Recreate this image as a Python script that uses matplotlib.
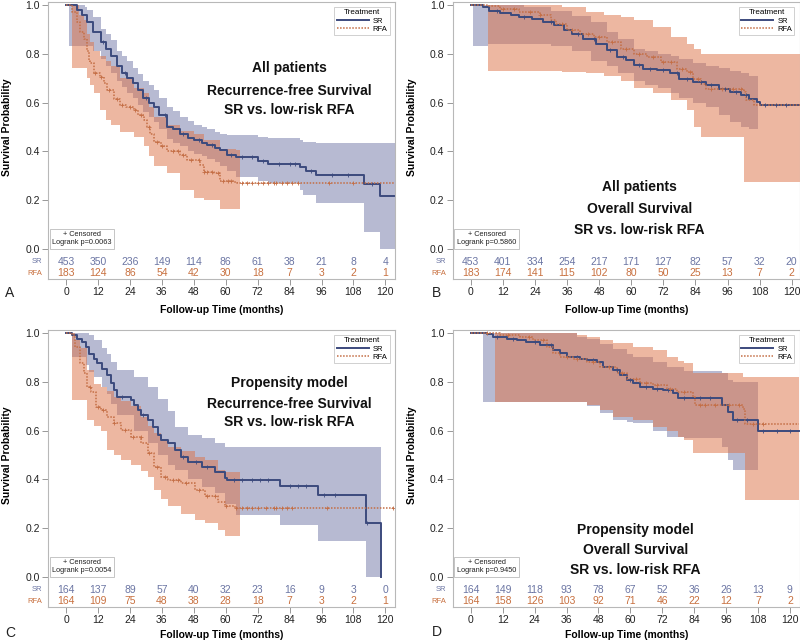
import numpy as np
import matplotlib
matplotlib.use('Agg')
import matplotlib.pyplot as plt

plt.rcParams['font.family'] = ['Liberation Sans', 'DejaVu Sans']

# ---- panel A: all patients, recurrence-free survival ----
a_sr_t = [0, 4, 6, 8, 10, 13, 15, 17, 19, 21, 23, 25, 27, 29, 31, 33, 35, 38, 40, 43, 46, 48, 51, 53, 56, 58, 60.5, 64, 72, 76, 88, 90, 94, 112, 118, 123.5]
a_sr_s = [1.0, 0.98, 0.96, 0.93, 0.89, 0.85, 0.82, 0.79, 0.75, 0.72, 0.70, 0.68, 0.65, 0.62, 0.60, 0.58, 0.55, 0.50, 0.49, 0.47, 0.455, 0.445, 0.435, 0.425, 0.415, 0.405, 0.385, 0.377, 0.362, 0.35, 0.335, 0.32, 0.305, 0.265, 0.215, 0.215]
a_sr_bt = [0, 1, 7, 8, 10, 13, 15, 17, 19, 21, 23, 25, 27, 29, 31, 33, 35, 38, 40, 43, 46, 48, 51, 53, 56, 58, 60.5, 64, 72, 76, 88, 89, 94, 112, 118, 123.5]
a_sr_lo = [1.0, 0.83, 0.83, 0.83, 0.81, 0.78, 0.75, 0.72, 0.69, 0.665, 0.64, 0.62, 0.59, 0.56, 0.54, 0.52, 0.49, 0.45, 0.435, 0.42, 0.40, 0.39, 0.38, 0.37, 0.355, 0.34, 0.32, 0.295, 0.28, 0.27, 0.24, 0.22, 0.19, 0.07, 0.0, 0.0]
a_sr_hi = [1.0, 1.0, 0.99, 0.98, 0.95, 0.90, 0.88, 0.855, 0.81, 0.79, 0.77, 0.74, 0.715, 0.69, 0.67, 0.65, 0.62, 0.58, 0.565, 0.54, 0.525, 0.51, 0.50, 0.49, 0.48, 0.47, 0.465, 0.465, 0.46, 0.455, 0.445, 0.44, 0.435, 0.435, 0.435, 0.435]
a_rfa_t = [0, 2.3, 4.1, 5.4, 6.6, 7.9, 8.5, 9.1, 10.4, 12.9, 14.2, 15.4, 17.9, 20.4, 22.5, 25.4, 27, 29.2, 30.5, 31.7, 32.9, 35.5, 38, 43, 45.5, 50.5, 51.7, 55.5, 58, 63, 64.3, 123.5]
a_rfa_s = [1.0, 0.97, 0.93, 0.89, 0.86, 0.81, 0.77, 0.76, 0.72, 0.705, 0.68, 0.65, 0.615, 0.59, 0.58, 0.57, 0.55, 0.53, 0.50, 0.47, 0.44, 0.42, 0.40, 0.385, 0.365, 0.345, 0.315, 0.31, 0.28, 0.275, 0.27, 0.27]
a_rfa_bt = [0, 2.3, 5, 6.6, 7.9, 9, 10.4, 12.9, 15, 16.7, 20.4, 25.4, 29.2, 31, 32.9, 38, 43, 48, 51.7, 58, 64, 65.2]
a_rfa_lo = [1.0, 0.74, 0.74, 0.74, 0.70, 0.67, 0.64, 0.57, 0.53, 0.51, 0.48, 0.46, 0.42, 0.38, 0.34, 0.31, 0.24, 0.21, 0.20, 0.165, 0.165, 0.165]
a_rfa_hi = [1.0, 1.0, 0.96, 0.94, 0.88, 0.85, 0.81, 0.79, 0.77, 0.75, 0.70, 0.66, 0.64, 0.58, 0.54, 0.51, 0.485, 0.47, 0.445, 0.41, 0.405, 0.405]
a_sr_cens = [14, 22, 30, 37, 44, 50, 55, 62, 66, 70, 74, 80, 84, 86, 92, 100, 106, 115]
a_rfa_cens = [11, 13, 16, 19, 21, 24, 26, 28, 31, 34, 36, 40, 42, 44, 47, 50, 52, 53, 55, 57, 59, 61, 62, 66, 68, 70, 72, 74, 76, 78, 79, 81, 83, 85, 87, 99, 108]
a_risk_sr = [453, 350, 236, 149, 114, 86, 61, 38, 21, 8, 4]
a_risk_rfa = [183, 124, 86, 54, 42, 30, 18, 7, 3, 2, 1]

# ---- panel B: all patients, overall survival ----
b_sr_t = [0, 4.6, 7, 11, 15, 18, 23, 27, 31, 35, 38, 42, 47, 51, 54.5, 58, 61, 64.5, 69.5, 74.5, 78, 83, 88, 93, 97, 101, 104, 107, 108, 123.5]
b_sr_s = [1.0, 0.99, 0.975, 0.965, 0.957, 0.95, 0.944, 0.93, 0.917, 0.896, 0.882, 0.862, 0.84, 0.814, 0.787, 0.773, 0.753, 0.739, 0.732, 0.719, 0.698, 0.684, 0.67, 0.657, 0.643, 0.63, 0.616, 0.602, 0.589, 0.589]
b_sr_bt = [0, 1, 6.5, 20, 30, 38, 45, 50.8, 55, 61, 65, 70, 75, 78, 83, 88, 93, 97, 101, 104, 107.5]
b_sr_lo = [1.0, 0.83, 0.84, 0.84, 0.83, 0.81, 0.77, 0.75, 0.72, 0.69, 0.67, 0.66, 0.64, 0.62, 0.60, 0.58, 0.55, 0.52, 0.50, 0.49, 0.49]
b_sr_hi = [1.0, 1.0, 1.0, 0.99, 0.975, 0.955, 0.93, 0.89, 0.86, 0.82, 0.81, 0.80, 0.79, 0.78, 0.76, 0.75, 0.74, 0.73, 0.72, 0.71, 0.71]
b_rfa_t = [0, 6, 11, 18, 26, 30, 32, 36, 41, 46, 51, 56, 61, 66, 71, 77, 81, 83, 86, 88, 102, 103, 106, 123.5]
b_rfa_s = [1.0, 0.995, 0.985, 0.97, 0.957, 0.94, 0.923, 0.896, 0.882, 0.869, 0.848, 0.821, 0.80, 0.787, 0.766, 0.739, 0.725, 0.698, 0.678, 0.657, 0.643, 0.61, 0.589, 0.589]
b_rfa_bt = [0, 6.5, 30, 34, 43, 50, 56, 61, 68, 75, 81, 83.5, 86, 102, 123.5]
b_rfa_lo = [1.0, 0.73, 0.73, 0.725, 0.72, 0.71, 0.69, 0.66, 0.64, 0.61, 0.57, 0.50, 0.46, 0.275, 0.275]
b_rfa_hi = [1.0, 1.0, 1.0, 0.99, 0.97, 0.96, 0.95, 0.94, 0.91, 0.87, 0.84, 0.82, 0.80, 0.80, 0.80]
b_sr_cens = [10, 20, 30, 40, 46, 52, 57, 63, 67, 72, 77, 81, 86, 90, 95, 99, 103, 110, 114, 118]
b_rfa_cens = [12, 16, 22, 26, 34, 38, 44, 48, 53, 58, 63, 68, 72, 75, 79, 82, 85, 90, 94, 98, 101]
b_risk_sr = [453, 401, 334, 254, 217, 171, 127, 82, 57, 32, 20]
b_risk_rfa = [183, 174, 141, 115, 102, 80, 50, 25, 13, 7, 2]

# ---- panel C: propensity model, recurrence-free survival ----
c_sr_t = [0, 2.3, 4.2, 6.1, 7.3, 8.6, 10.5, 11.7, 13.6, 15.5, 16.8, 18, 19.3, 24.4, 25.6, 26.9, 28.1, 30.7, 32.6, 34.4, 35.7, 38.2, 40.8, 43.3, 45.8, 50.9, 55.9, 59.7, 60.3, 80.5, 94.8, 112.7, 118.4]
c_sr_s = [1.0, 0.99, 0.977, 0.963, 0.943, 0.915, 0.895, 0.875, 0.854, 0.827, 0.793, 0.766, 0.738, 0.725, 0.704, 0.684, 0.663, 0.643, 0.616, 0.582, 0.561, 0.548, 0.52, 0.493, 0.469, 0.452, 0.432, 0.405, 0.398, 0.371, 0.337, 0.221, 0.0]
c_sr_bt = [0, 2.3, 7.3, 8.6, 10.5, 13.6, 15.5, 17, 19.3, 25.6, 30.7, 34.4, 38.2, 40.8, 45.8, 50.9, 55.9, 59.7, 64, 80.5, 94.8, 112.7, 118.4]
c_sr_lo = [1.0, 0.90, 0.87, 0.84, 0.82, 0.78, 0.75, 0.71, 0.663, 0.60, 0.55, 0.50, 0.46, 0.44, 0.40, 0.37, 0.343, 0.30, 0.255, 0.214, 0.146, 0.0, 0.0]
c_sr_hi = [1.0, 1.0, 1.0, 0.99, 0.97, 0.94, 0.915, 0.88, 0.847, 0.82, 0.78, 0.73, 0.68, 0.616, 0.582, 0.568, 0.548, 0.534, 0.534, 0.534, 0.534, 0.534, 0.534]
c_rfa_t = [0, 2.3, 3.5, 5.4, 6.7, 7.9, 9.2, 11.1, 13, 15.5, 18, 20.6, 24.4, 28.1, 30.7, 33.2, 35.7, 38.2, 43.3, 48.3, 52.1, 57.2, 59.7, 63.5, 123.5]
c_rfa_s = [1.0, 0.99, 0.943, 0.875, 0.834, 0.78, 0.759, 0.697, 0.684, 0.657, 0.629, 0.602, 0.575, 0.548, 0.507, 0.452, 0.411, 0.398, 0.384, 0.357, 0.33, 0.309, 0.292, 0.282, 0.282]
c_rfa_bt = [0, 2.3, 3.5, 5.4, 7.9, 10.5, 13, 15.5, 18, 20.6, 24.4, 28.1, 30.7, 33.2, 35.7, 38.2, 43.3, 48.3, 52.1, 57.2, 59.7, 65.4]
c_rfa_lo = [1.0, 0.727, 0.727, 0.727, 0.643, 0.62, 0.60, 0.52, 0.50, 0.48, 0.46, 0.435, 0.411, 0.357, 0.32, 0.289, 0.26, 0.235, 0.221, 0.193, 0.166, 0.166]
c_rfa_hi = [1.0, 1.0, 0.97, 0.94, 0.85, 0.79, 0.78, 0.76, 0.738, 0.72, 0.70, 0.657, 0.62, 0.588, 0.56, 0.534, 0.515, 0.49, 0.48, 0.439, 0.43, 0.43]
c_sr_cens = [21, 29, 44, 49, 53, 63, 66, 70, 73, 76, 84, 87, 90, 97, 101, 113]
c_rfa_cens = [9, 12, 14, 18, 22, 25, 28, 31, 34, 37, 40, 42, 45, 50, 53, 56, 60, 64, 66, 68, 70, 72, 75, 78, 79, 81, 83, 85, 98, 123]
c_risk_sr = [164, 137, 89, 57, 40, 32, 23, 16, 9, 3, 0]
c_risk_rfa = [164, 109, 75, 48, 38, 28, 18, 7, 3, 2, 1]

# ---- panel D: propensity model, overall survival ----
d_sr_t = [0, 5.9, 8.4, 13.4, 17.2, 20.9, 26, 31, 33.5, 36, 41, 43.5, 47.3, 49.8, 53.5, 56.1, 58.6, 61.1, 63.6, 68.6, 72.4, 76.1, 78, 94.3, 96.8, 98.7, 108.1, 123.5]
d_sr_s = [1.0, 0.995, 0.984, 0.977, 0.97, 0.963, 0.95, 0.929, 0.916, 0.902, 0.895, 0.888, 0.881, 0.861, 0.847, 0.827, 0.807, 0.793, 0.779, 0.772, 0.766, 0.752, 0.732, 0.704, 0.677, 0.643, 0.597, 0.597]
d_sr_bt = [0, 4.6, 36, 40, 43.5, 48.5, 53.5, 58.6, 61.1, 68.6, 73.7, 80, 94.3, 96.8, 98.7, 108.1]
d_sr_lo = [1.0, 0.718, 0.718, 0.715, 0.70, 0.67, 0.643, 0.635, 0.63, 0.60, 0.575, 0.568, 0.534, 0.48, 0.439, 0.439]
d_sr_hi = [1.0, 1.0, 1.0, 0.984, 0.975, 0.955, 0.935, 0.915, 0.90, 0.88, 0.861, 0.845, 0.834, 0.807, 0.80, 0.793]
d_rfa_t = [0, 10.9, 18.4, 23.4, 28.5, 31, 33.5, 38.5, 43.5, 48.5, 54.8, 58.6, 63.6, 68.6, 73.7, 77.4, 83.6, 84.3, 102.4, 103.1, 123.5]
d_rfa_s = [1.0, 0.99, 0.984, 0.97, 0.943, 0.916, 0.902, 0.895, 0.881, 0.861, 0.834, 0.813, 0.793, 0.786, 0.772, 0.759, 0.738, 0.704, 0.69, 0.625, 0.625]
d_rfa_bt = [0, 9, 36, 40, 43.5, 48.5, 53.5, 61.1, 68.6, 73.7, 78, 80, 83.6, 102.4, 103.1, 123.5]
d_rfa_lo = [1.0, 0.718, 0.718, 0.715, 0.704, 0.684, 0.657, 0.643, 0.616, 0.60, 0.575, 0.56, 0.507, 0.507, 0.316, 0.316]
d_rfa_hi = [1.0, 1.0, 1.0, 0.99, 0.985, 0.97, 0.96, 0.943, 0.93, 0.90, 0.885, 0.875, 0.834, 0.82, 0.82, 0.82]
d_sr_cens = [10, 16, 24, 30, 40, 46, 55, 60, 66, 70, 74, 80, 86, 90, 100, 104, 110, 115, 120]
d_rfa_cens = [6, 14, 22, 27, 36, 40, 46, 52, 57, 62, 66, 70, 75, 80, 86, 88, 92, 97, 101, 106, 110]
d_risk_sr = [164, 149, 118, 93, 78, 67, 52, 36, 26, 13, 9]
d_risk_rfa = [164, 158, 126, 103, 92, 71, 46, 22, 12, 7, 2]

risk_times = [0, 12, 24, 36, 48, 60, 72, 84, 96, 108, 120]
pvals = ['0.0063', '0.5860', '0.0054', '0.9450']
titles = [['All patients', 'Recurrence-free Survival', 'SR vs. low-risk RFA'],
          ['All patients', 'Overall Survival', 'SR vs. low-risk RFA'],
          ['Propensity model', 'Recurrence-free Survival', 'SR vs. low-risk RFA'],
          ['Propensity model', 'Overall Survival', 'SR vs. low-risk RFA']]

SR_LINE = '#3c4a7d'
RFA_LINE = '#c46e45'
SR_FILL = '#7177a7'
RFA_FILL = '#dd7145'
SR_TXT = '#6b75a3'
RFA_TXT = '#c8703f'
FRAME = '#b8b8b8'


def value_at(t, s, x):
    t = np.asarray(t)
    i = np.searchsorted(t, x, side='right') - 1
    return np.asarray(s)[np.clip(i, 0, len(s) - 1)]


def draw_panel(ax, sr, rfa, risk_sr, risk_rfa, pval, title, title_x, title_y, xlim, xlab_y):
    sr_t, sr_s, sr_bt, sr_lo, sr_hi, sr_c = sr
    rfa_t, rfa_s, rfa_bt, rfa_lo, rfa_hi, rfa_c = rfa
    ax.fill_between(sr_bt, sr_lo, sr_hi, step='post', color=SR_FILL, alpha=0.5, lw=0)
    ax.fill_between(rfa_bt, rfa_lo, rfa_hi, step='post', color=RFA_FILL, alpha=0.5, lw=0)
    ax.step(sr_t, sr_s, where='post', color=SR_LINE, lw=1.4, label='SR')
    ax.step(rfa_t, rfa_s, where='post', color=RFA_LINE, lw=1.1, ls=(0, (1, 1)), label='RFA')
    ax.plot(sr_c, value_at(sr_t, sr_s, sr_c), ls='none', marker='+', ms=3.5, mew=0.6, color=SR_LINE)
    ax.plot(rfa_c, value_at(rfa_t, rfa_s, rfa_c), ls='none', marker='+', ms=3.5, mew=0.6, color=RFA_LINE)

    ax.set_xlim(*xlim)
    ax.set_ylim(-0.123, 1.012)
    ax.set_yticks([0.0, 0.2, 0.4, 0.6, 0.8, 1.0])
    ax.set_xticks(risk_times)
    ax.tick_params(labelsize=7.5, length=4, width=0.6, color='#888888', labelcolor='#222222', pad=2)
    for sp in ax.spines.values():
        sp.set_color(FRAME)
        sp.set_linewidth(0.8)

    for x, n in zip(risk_times, risk_sr):
        ax.text(x, -0.053, str(n), color=SR_TXT, fontsize=7.5, ha='center', va='center')
    for x, n in zip(risk_times, risk_rfa):
        ax.text(x, -0.100, str(n), color=RFA_TXT, fontsize=7.5, ha='center', va='center')
    tr = ax.get_yaxis_transform()
    ax.text(-0.018, -0.053, 'SR', transform=tr, color=SR_TXT, fontsize=5.5, ha='right', va='center')
    ax.text(-0.018, -0.100, 'RFA', transform=tr, color=RFA_TXT, fontsize=5.5, ha='right', va='center')

    for k, line in enumerate(title):
        ax.text(title_x, title_y[k], line, fontsize=10, fontweight='bold', ha='center', va='center',
                color='#111111')

    ax.text(0.012, 0.118, '+ Censored\nLogrank p=' + pval, transform=ax.transAxes, fontsize=5.3,
            ha='left', va='bottom', multialignment='center', color='#222222',
            bbox=dict(boxstyle='square,pad=0.35', fc='white', ec='#bbbbbb', lw=0.6))

    leg = ax.legend(loc='upper right', title='Treatment', fontsize=5.5, title_fontsize=5.8,
                    handlelength=4.2, frameon=True, fancybox=False, borderpad=0.3,
                    labelspacing=0.1, handletextpad=0.5, bbox_to_anchor=(0.995, 0.995))
    leg.get_frame().set_edgecolor('#bbbbbb')
    leg.get_frame().set_linewidth(0.6)

    ax.set_ylabel('Survival Probability', fontsize=7.5, fontweight='bold')
    ax.yaxis.set_label_coords(-0.104, 0.549)
    ax.set_xlabel('Follow-up Time (months)', fontsize=7.5, fontweight='bold')
    ax.xaxis.set_label_coords(0.5, xlab_y)
    ax.xaxis.label.set_va('center')


fig = plt.figure(figsize=(8, 6.44), dpi=100)
ax_a = fig.add_axes([0.060, 0.5668, 0.434, 0.4301])
ax_b = fig.add_axes([0.566, 0.5668, 0.434, 0.4301])
ax_c = fig.add_axes([0.060, 0.0575, 0.434, 0.4301])
ax_d = fig.add_axes([0.566, 0.0575, 0.434, 0.4301])

draw_panel(ax_a, (a_sr_t, a_sr_s, a_sr_bt, a_sr_lo, a_sr_hi, a_sr_cens),
           (a_rfa_t, a_rfa_s, a_rfa_bt, a_rfa_lo, a_rfa_hi, a_rfa_cens),
           a_risk_sr, a_risk_rfa, pvals[0], titles[0], 84, [0.742, 0.648, 0.570],
           (-6.8, 123.7), -0.112)
draw_panel(ax_b, (b_sr_t, b_sr_s, b_sr_bt, b_sr_lo, b_sr_hi, b_sr_cens),
           (b_rfa_t, b_rfa_s, b_rfa_bt, b_rfa_lo, b_rfa_hi, b_rfa_cens),
           b_risk_sr, b_risk_rfa, pvals[1], titles[1], 63, [0.255, 0.165, 0.078],
           (-6.7, 123.1), -0.112)
draw_panel(ax_c, (c_sr_t, c_sr_s, c_sr_bt, c_sr_lo, c_sr_hi, c_sr_cens),
           (c_rfa_t, c_rfa_s, c_rfa_bt, c_rfa_lo, c_rfa_hi, c_rfa_cens),
           c_risk_sr, c_risk_rfa, pvals[2], titles[2], 84, [0.795, 0.709, 0.635],
           (-6.8, 123.7), -0.101)
draw_panel(ax_d, (d_sr_t, d_sr_s, d_sr_bt, d_sr_lo, d_sr_hi, d_sr_cens),
           (d_rfa_t, d_rfa_s, d_rfa_bt, d_rfa_lo, d_rfa_hi, d_rfa_cens),
           d_risk_sr, d_risk_rfa, pvals[3], titles[3], 62, [0.193, 0.111, 0.029],
           (-6.8, 123.8), -0.101)

for lab, x, y in [('A', 0.006, 0.545), ('B', 0.540, 0.545), ('C', 0.006, 0.017), ('D', 0.540, 0.019)]:
    fig.text(x, y, lab, fontsize=10, ha='left', va='center', color='#222222')

fig.savefig('out.png', dpi=100)
